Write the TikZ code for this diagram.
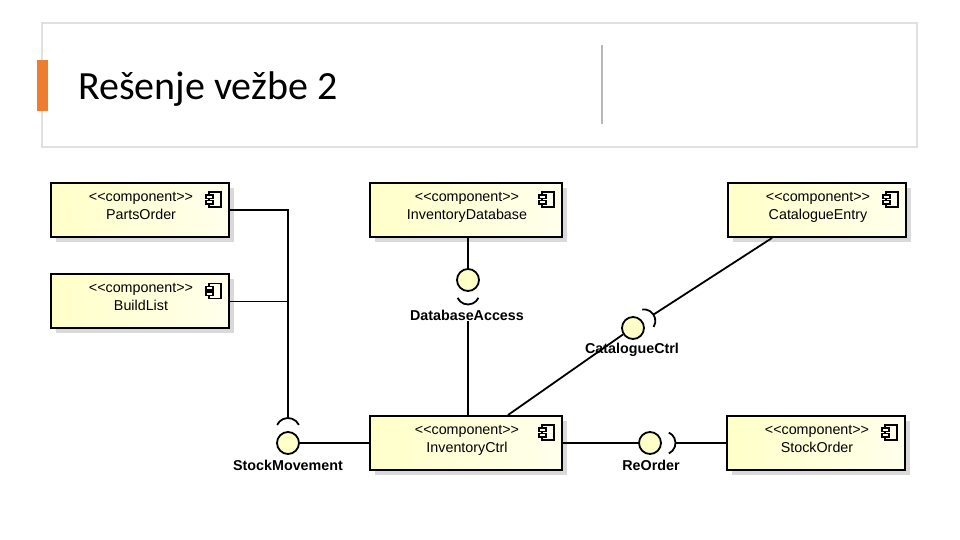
\documentclass[tikz,border=0pt]{standalone}
\usepackage{fontspec}
\usetikzlibrary{calc,shadows}
\newfontfamily\titlefont{Carlito}
\newfontfamily\umlfont[Ligatures=TeXOff]{Liberation Sans}
\definecolor{boxA}{RGB}{255,255,200}
\definecolor{boxB}{RGB}{255,255,236}
\definecolor{accent}{RGB}{237,125,49}
\pgfdeclarelayer{bg}
\pgfsetlayers{bg,main}
\tikzset{
  comp/.style={draw=black, line width=2pt, left color=boxA, right color=boxB,
    minimum width=178pt, minimum height=54pt, inner sep=0pt,
    drop shadow={opacity=1, fill=black!15, shadow xshift=5pt, shadow yshift=-5pt}},
  umltext/.style={font=\umlfont\fontsize{14.3}{16}\selectfont, anchor=base, inner sep=0pt},
  lab/.style={font=\umlfont\bfseries\fontsize{14.3}{16}\selectfont, inner sep=1pt},
  icon/.style={draw=black, line width=1.2pt, fill=boxB},
  ball/.style={circle, draw=black, line width=1.8pt, fill=boxA, minimum size=22pt, inner sep=0pt},
  conn/.style={draw=black, line width=1.8pt},
  lsh/.style={draw=black!15, line width=1.6pt, transform canvas={shift={(4pt,-4pt)}}},
  bsh/.style={fill=black!18},
}
\newcommand\umlcomp[5]{%
  \node[comp, minimum width=#4] (#1) at (#2,#3) {};
  \node[umltext] (#1-st) at ([xshift=1pt,yshift=-19.5pt]#1.north) {<<component>>};
  \node[umltext] (#1-nm) at ([xshift=1pt,yshift=-37.5pt]#1.north) {#5};
  \draw[icon] ([shift={(-21,-10)}]#1.north east) rectangle ([shift={(-9,-25)}]#1.north east);
  \draw[icon] ([shift={(-24,-13)}]#1.north east) rectangle ([shift={(-17,-16.5)}]#1.north east);
  \draw[icon] ([shift={(-24,-18.5)}]#1.north east) rectangle ([shift={(-17,-22)}]#1.north east);
}
\begin{document}
\begin{tikzpicture}[x=1pt,y=1pt]
\useasboundingbox (0,0) rectangle (960,540);
\fill[white] (0,0) rectangle (960,540);
% slide header
\draw[black!12, line width=1.6pt] (42,517) rectangle (917,393);
\fill[accent] (37,480) rectangle (48,429);
\draw[black!28, line width=1.2pt] (602,495) -- (602,416);
\node[font=\titlefont\fontsize{40}{48}\selectfont, anchor=base west, inner sep=0pt] (title) at (78,440) {Rešenje vežbe 2};

% components
\umlcomp{parts}{140}{330}{178pt}{PartsOrder}
\umlcomp{build}{140}{238.5}{178pt}{BuildList}
\umlcomp{invdb}{466}{330}{192pt}{InventoryDatabase}
\umlcomp{catentry}{817}{330}{178pt}{CatalogueEntry}
\umlcomp{invctrl}{466}{97}{192pt}{InventoryCtrl}
\umlcomp{stockorder}{816}{97}{178pt}{StockOrder}

% interface balls with shadows
\begin{pgfonlayer}{bg}
  \fill[bsh] (471,257) circle (11);
  \fill[bsh] (636,209) circle (11);
  \fill[bsh] (291,94) circle (11);
  \fill[bsh] (653,94) circle (11);
\end{pgfonlayer}
\node[ball] (dba) at (468,260) {};
\node[ball] (cc) at (633,212) {};
\node[ball] (sm) at (288,97) {};
\node[ball] (ro) at (650,97) {};

% sockets
\draw[conn] ($(dba)+(0,-13)+(205:11.5)$) arc[start angle=205, end angle=335, radius=11.5];
\draw[conn] ($(cc)+(33.2:13)+(-31.8:11.5)$) arc[start angle=-31.8, end angle=98.2, radius=11.5];
\draw[conn] ($(sm)+(0,13)+(25:12)$) arc[start angle=25, end angle=155, radius=12];
\draw[conn] ($(ro)+(14,0)+(-65:11.5)$) arc[start angle=-65, end angle=65, radius=11.5];
\begin{pgfonlayer}{bg}
  \draw[lsh] ($(dba)+(0,-13)+(205:11.5)$) arc[start angle=205, end angle=335, radius=11.5];
  \draw[lsh] ($(cc)+(33.2:13)+(-31.8:11.5)$) arc[start angle=-31.8, end angle=98.2, radius=11.5];
  \draw[lsh] ($(sm)+(0,13)+(25:12)$) arc[start angle=25, end angle=155, radius=12];
  \draw[lsh] ($(ro)+(14,0)+(-65:11.5)$) arc[start angle=-65, end angle=65, radius=11.5];
\end{pgfonlayer}

% labels
\node[lab] (dbaL) at (467,225) {DatabaseAccess};
\node[lab] (ccL) at (632,190) {CatalogueCtrl};
\node[lab] (smL) at (288,75) {StockMovement};
\node[lab] (roL) at (651,75) {ReOrder};

% connector end points
\coordinate (smsock) at ($(sm)+(0,25)$);
\coordinate (ccsock) at ($(cc)+(33.2:24.5)$);
\coordinate (catpt) at ([xshift=-45pt]catentry.south);
\coordinate (icpt) at ([xshift=42pt]invctrl.north);
\coordinate (rosock) at ($(ro)+(25.5,0)$);

% connectors
\draw[conn] (parts.east) -| (smsock);
\draw[conn] (build.east) -- (build.east -| smsock);
\draw[conn] (sm.east) -- (invctrl.west);
\draw[conn] (dba.north) -- (dba.north |- invdb.south);
\draw[conn] (dbaL.south -| dba) -- (dba |- invctrl.north);
\draw[conn] (ccsock) -- (catpt);
\draw[conn] (cc.213) -- (icpt);
\draw[conn] (invctrl.east) -- (ro.west);
\draw[conn] (rosock) -- (stockorder.west);

\begin{pgfonlayer}{bg}
\draw[lsh] (parts.east) -| (smsock);
\draw[lsh] (build.east) -- (build.east -| smsock);
\draw[lsh] (sm.east) -- (invctrl.west);
\draw[lsh] (dba.north) -- (dba.north |- invdb.south);
\draw[lsh] (dbaL.south -| dba) -- (dba |- invctrl.north);
\draw[lsh] (ccsock) -- (catpt);
\draw[lsh] (cc.213) -- (icpt);
\draw[lsh] (invctrl.east) -- (ro.west);
\draw[lsh] (rosock) -- (stockorder.west);
\end{pgfonlayer}
\end{tikzpicture}
\end{document}
